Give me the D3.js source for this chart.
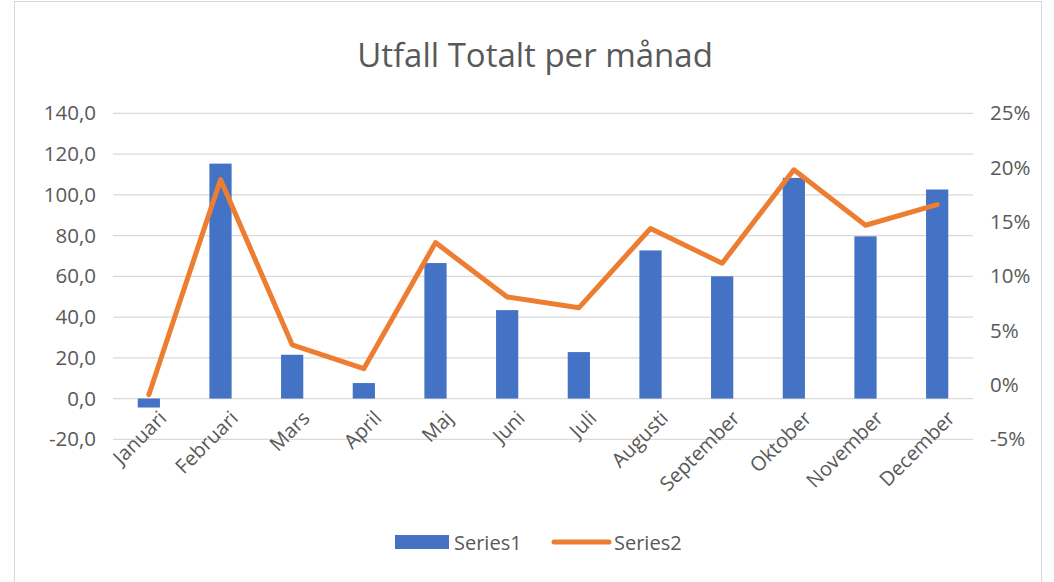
<!DOCTYPE html>
<html lang="sv">
<head>
  <meta charset="utf-8">
  <title>Utfall Totalt per månad</title>
  <script src="https://d3js.org/d3.v7.min.js"></script>
  <style>
    body { margin: 0; background: #fff; }
    text { font-family: "Open Sans", sans-serif; fill: #595959; }
  </style>
</head>
<body>
<div id="vis"></div>
<script>
  // data
  var manader = ["Januari", "Februari", "Mars", "April", "Maj", "Juni", "Juli",
    "Augusti", "September", "Oktober", "November", "December"];
  var series1 = [-4.4, 115.3, 21.5, 7.6, 66.5, 43.4, 22.8, 72.7, 60.0, 108.3, 79.6, 102.6];
  var series2 = [-0.009, 0.189, 0.037, 0.015, 0.131, 0.081, 0.071, 0.144, 0.112, 0.198, 0.147, 0.166];
  var vTicks = [-20, 0, 20, 40, 60, 80, 100, 120, 140];
  var pTicks = [-0.05, 0, 0.05, 0.10, 0.15, 0.20, 0.25];

  var W = 1054, H = 582;
  var plotL = 113, plotR = 973, plotT = 113.3, plotB = 439.3;

  var svg = d3.select("#vis").append("svg")
    .attr("width", W).attr("height", H);

  svg.append("rect")
    .attr("x", 14.5).attr("y", 1.5)
    .attr("width", 1027).attr("height", 600)
    .attr("fill", "#fff").attr("stroke", "#d9d9d9").attr("stroke-width", 1);

  var x = d3.scaleBand().domain(manader).range([plotL, plotR]);
  var y = d3.scaleLinear().domain([-20, 140]).range([plotB, plotT]);
  var y2 = d3.scaleLinear().domain([-0.05, 0.25]).range([plotB, plotT]);

  // gridlines
  svg.append("g").selectAll("line")
    .data(vTicks).enter().append("line")
    .attr("x1", plotL).attr("x2", plotR)
    .attr("y1", d => y(d)).attr("y2", d => y(d))
    .attr("stroke", "#d9d9d9").attr("stroke-width", 1.3);

  // left axis
  var axL = svg.append("g")
    .attr("transform", "translate(" + (plotL - 17) + ",0)")
    .call(d3.axisLeft(y).tickValues(vTicks).tickSize(0).tickPadding(0)
      .tickFormat(d => d3.format(".1f")(d).replace(".", ",").replace("−", "-")));
  axL.select(".domain").remove();
  axL.selectAll("text").style("font-size", "20.5px").attr("fill", "#595959");

  // right axis
  var axR = svg.append("g")
    .attr("transform", "translate(" + (plotR + 17) + ",0)")
    .call(d3.axisRight(y2).tickValues(pTicks).tickSize(0).tickPadding(0)
      .tickFormat(d => Math.round(d * 100) + "%"));
  axR.select(".domain").remove();
  axR.selectAll("text").style("font-size", "20.5px").attr("fill", "#595959");

  // bars
  var bw = x.bandwidth() * 0.31;
  svg.append("g").selectAll("rect")
    .data(series1).enter().append("rect")
    .attr("x", (d, i) => x(manader[i]) + x.bandwidth() / 2 - bw / 2)
    .attr("width", bw)
    .attr("y", d => y(Math.max(0, d)))
    .attr("height", d => Math.abs(y(d) - y(0)))
    .attr("fill", "#4472c4");

  // line
  var linje = d3.line()
    .x((d, i) => x(manader[i]) + x.bandwidth() / 2)
    .y(d => y2(d));
  svg.append("path")
    .datum(series2)
    .attr("d", linje)
    .attr("fill", "none")
    .attr("stroke", "#ed7d31")
    .attr("stroke-width", 5)
    .attr("stroke-linejoin", "round")
    .attr("stroke-linecap", "round");

  // x labels
  svg.append("g").selectAll("text")
    .data(manader).enter().append("text")
    .attr("transform", d => "translate(" + (x(d) + x.bandwidth() / 2 + 9) + "," + (y(0) + 11) + ") rotate(-45)")
    .attr("text-anchor", "end")
    .attr("dy", "0.7em")
    .style("font-size", "20px")
    .text(d => d);

  // title
  svg.append("text")
    .attr("x", 535).attr("y", 67)
    .attr("text-anchor", "middle")
    .style("font-size", "33px")
    .text("Utfall Totalt per månad");

  // legend
  var lg = svg.append("g");
  lg.append("rect").attr("x", 395).attr("y", 535).attr("width", 54).attr("height", 14).attr("fill", "#4472c4");
  lg.append("text").attr("x", 454).attr("y", 550).style("font-size", "20px").text("Series1");
  lg.append("line").attr("x1", 554).attr("x2", 609).attr("y1", 542).attr("y2", 542)
    .attr("stroke", "#ed7d31").attr("stroke-width", 5).attr("stroke-linecap", "round");
  lg.append("text").attr("x", 614).attr("y", 550).style("font-size", "20px").text("Series2");
</script>
</body>
</html>
